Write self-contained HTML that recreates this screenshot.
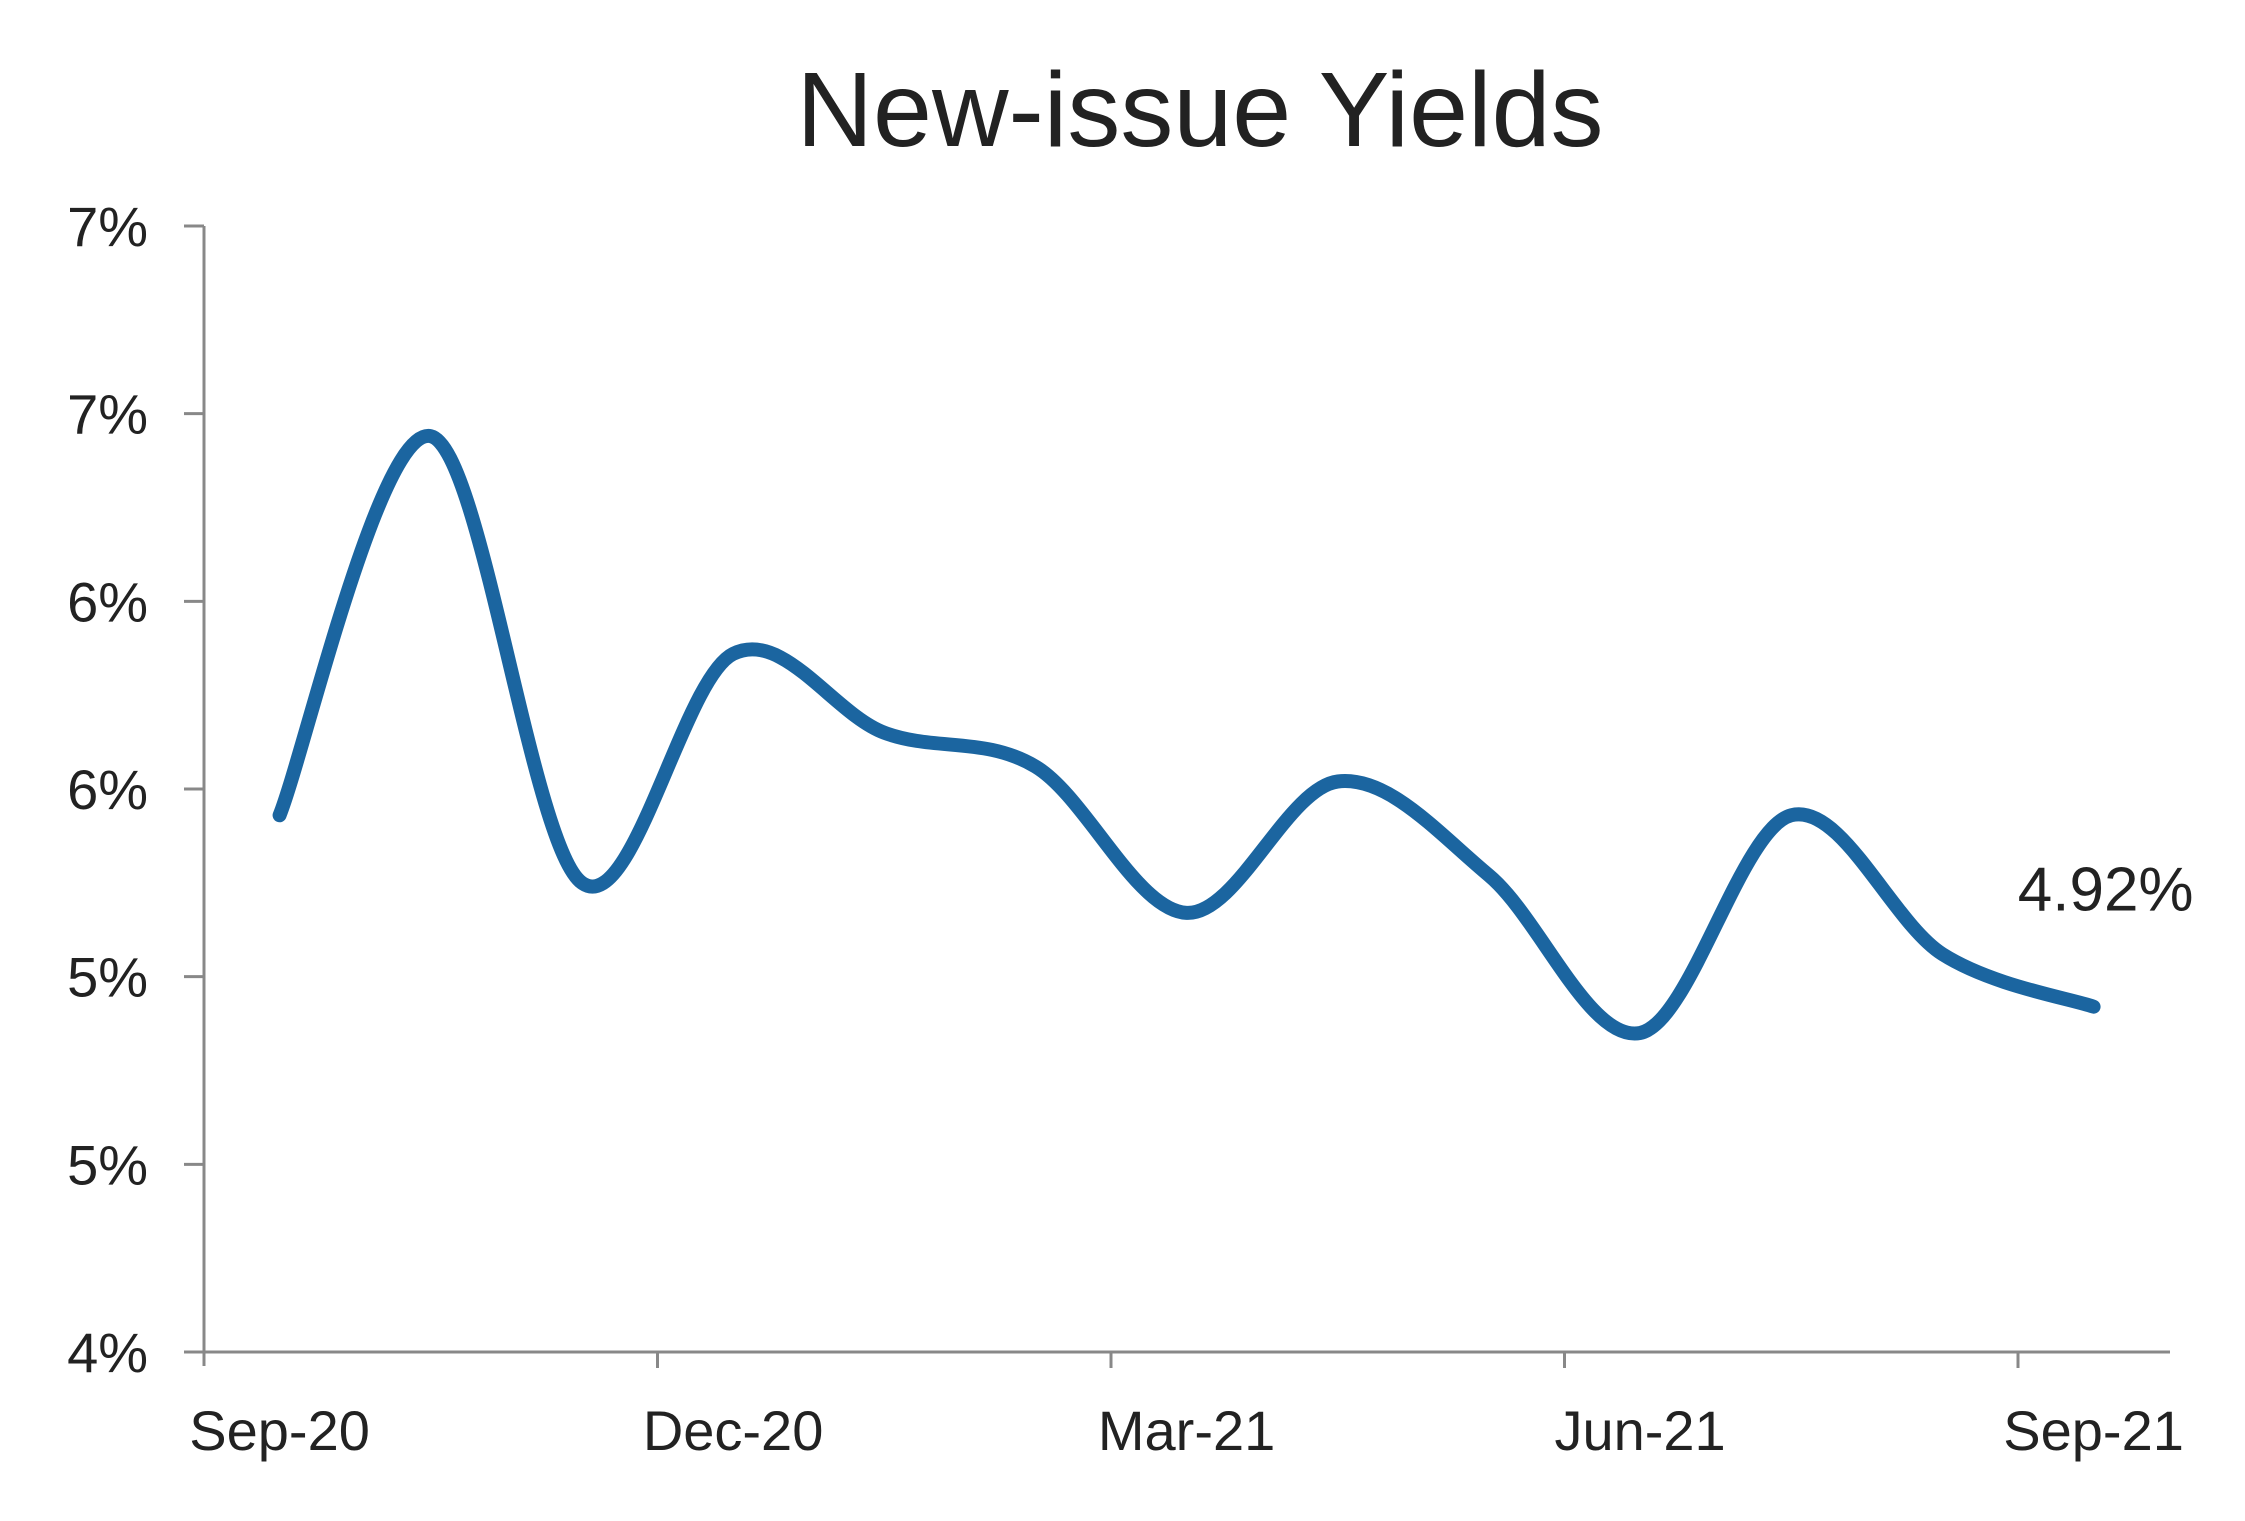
<!DOCTYPE html>
<html><head><meta charset="utf-8"><style>
html,body{margin:0;padding:0;background:#fff}
svg{display:block}
text{font-family:"Liberation Sans",sans-serif;fill:#222}
</style></head><body>
<svg id="chart" width="2245" height="1521" viewBox="0 0 2245 1521" xmlns="http://www.w3.org/2000/svg">
<text x="1200" y="146" font-size="106" text-anchor="middle">New-issue Yields</text>
<g id="axes"></g>
<path id="line" fill="none" stroke="#1b65a0" stroke-width="14" stroke-linecap="round" stroke-linejoin="round"/>
<text id="lastLabel" font-size="62" text-anchor="end"></text>
</svg>
<script>
const months = ["Sep-20","Oct-20","Nov-20","Dec-20","Jan-21","Feb-21","Mar-21","Apr-21","May-21","Jun-21","Jul-21","Aug-21","Sep-21"];
const yields = [5.43,6.44,5.25,5.86,5.65,5.56,5.17,5.52,5.27,4.85,5.43,5.06,4.92];
const yTicks = [4.0,4.5,5.0,5.5,6.0,6.5,7.0];
const xTickLabels = ["Sep-20","Dec-20","Mar-21","Jun-21","Sep-21"];

const NS="http://www.w3.org/2000/svg";
const x0=204, x1=2170, yTop=226, yBot=1352;
const tickStep=453.5;
const monthW=tickStep/3;
function xScale(i){return x0+monthW*(i+0.5);}
function yScale(v){return yBot-(v-4)/3*(yBot-yTop);}
const axes=document.getElementById('axes');
function mk(tag,attrs){const e=document.createElementNS(NS,tag);for(const k in attrs)e.setAttribute(k,attrs[k]);return e;}

const ya=mk('line',{x1:x0,y1:yTop,x2:x0,y2:yBot+14,stroke:'#888','stroke-width':3});


axes.appendChild(ya);
const xa=mk('line',{x1:x0-20,y1:yBot,x2:x1,y2:yBot,stroke:'#888','stroke-width':3});


axes.appendChild(xa);

yTicks.forEach(v=>{
  const y=yScale(v);
  const t=mk('line',{x1:x0-20,y1:y,x2:x0,y2:y,stroke:'#888','stroke-width':3});
  
  
  axes.appendChild(t);
  const l=mk('text',{x:148,y:y+20,'font-size':56,'text-anchor':'end'});
  l.textContent=Math.round(v)+'%';
  
  
  axes.appendChild(l);
});
xTickLabels.forEach((s,i)=>{
  const x=x0+tickStep*i;
  if(i>0){
    const t=mk('line',{x1:x,y1:yBot,x2:x,y2:yBot+16,stroke:'#888','stroke-width':3});
    
    
    axes.appendChild(t);
  }
  const l=mk('text',{x:xScale(i*3),y:1450,'font-size':56,'text-anchor':'middle'});
  l.textContent=s;
  
  
  axes.appendChild(l);
});

const pts=yields.map((v,i)=>[xScale(i),yScale(v)]);
let d='M'+pts[0][0]+','+pts[0][1];
for(let i=0;i<pts.length-1;i++){
  const p0=pts[Math.max(0,i-1)],p1=pts[i],p2=pts[i+1],p3=pts[Math.min(pts.length-1,i+2)];
  const c1=[p1[0]+(p2[0]-p0[0])/6,p1[1]+(p2[1]-p0[1])/6];
  const c2=[p2[0]-(p3[0]-p1[0])/6,p2[1]-(p3[1]-p1[1])/6];
  d+=' C'+c1.join(',')+' '+c2.join(',')+' '+p2.join(',');
}
document.getElementById('line').setAttribute('d',d);
const last=pts[pts.length-1];
const ll=document.getElementById('lastLabel');
ll.setAttribute('x',last[0]+100);
ll.setAttribute('y',last[1]-96);
ll.textContent=yields[yields.length-1].toFixed(2)+'%';
</script>
</body></html>
